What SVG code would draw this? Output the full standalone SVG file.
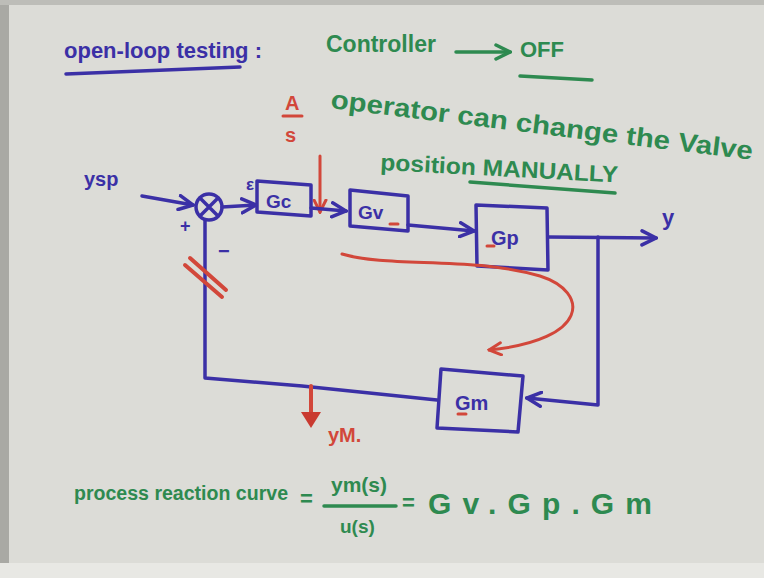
<svg xmlns="http://www.w3.org/2000/svg" width="764" height="578" viewBox="0 0 764 578">
<defs>
<style>
.b{stroke:#3b30a6;stroke-width:3.5;fill:none;stroke-linecap:round;stroke-linejoin:round}
.r{stroke:#d2473a;stroke-width:3;fill:none;stroke-linecap:round}
.g{stroke:#2e8a50;stroke-width:3.5;fill:none;stroke-linecap:round}
.tb{fill:#3b30a6;font-family:"Liberation Sans",Arial,sans-serif;font-weight:bold}
.tg{fill:#2e8a50;font-family:"Liberation Sans",Arial,sans-serif;font-weight:bold}
.tr{fill:#d2473a;font-family:"Liberation Sans",Arial,sans-serif;font-weight:bold}
</style>
<marker id="ab" viewBox="0 0 10 10" refX="9" refY="5" markerWidth="5" markerHeight="5" orient="auto" markerUnits="strokeWidth"><path d="M1,1 L9,5 L1,9" fill="none" stroke="#3b30a6" stroke-width="2" stroke-linecap="round"/></marker>
<marker id="ag" viewBox="0 0 10 10" refX="9" refY="5" markerWidth="5" markerHeight="5" orient="auto" markerUnits="strokeWidth"><path d="M1,1 L9,5 L1,9" fill="none" stroke="#2e8a50" stroke-width="2" stroke-linecap="round"/></marker>
<marker id="ar" viewBox="0 0 10 10" refX="9" refY="5" markerWidth="5" markerHeight="5" orient="auto" markerUnits="strokeWidth"><path d="M1,1 L9,5 L1,9" fill="none" stroke="#d2473a" stroke-width="2" stroke-linecap="round"/></marker>
</defs>
<rect width="764" height="578" fill="#dcdcd7"/>
<rect x="0" y="0" width="9" height="578" fill="#a9a9a4"/>
<rect x="0" y="0" width="764" height="5" fill="#bdbdb8"/>
<rect x="0" y="563" width="764" height="15" fill="#e8e8e4"/>

<g id="title">
<text class="tb" x="64" y="58" font-size="22">open-loop testing :</text>
<path class="b" d="M66,74 L240,67"/>
</g>
<g id="note1">
<text class="tg" x="326" y="52" font-size="23">Controller</text>
<path class="g" d="M456,52 L510,52" marker-end="url(#ag)"/>
<text class="tg" x="520" y="57" font-size="22">OFF</text>
<path class="g" d="M520,76 L592,80"/>
</g>
<g id="note2">
<text class="tg" x="330" y="108" font-size="26" textLength="425" lengthAdjust="spacingAndGlyphs" transform="rotate(7 330 108)">operator can change the Valve</text>
<text class="tg" x="380" y="170" font-size="23" textLength="238" lengthAdjust="spacingAndGlyphs" transform="rotate(3 380 170)">position MANUALLY</text>
<path class="g" d="M470,182 L615,193"/>
</g>

<g id="disturbance">
<text class="tr" x="285" y="110" font-size="20">A</text>
<path class="r" d="M283,116 L302,116"/>
<text class="tr" x="285" y="142" font-size="20">s</text>
<path class="r" d="M320,156 L320,212" marker-end="url(#ar)"/>
</g>

<g id="ysp"><text class="tb" x="84" y="186" font-size="20">ysp</text></g>
<g id="sum">
<circle class="b" cx="209" cy="207" r="13"/>
<path class="b" d="M200,198 L218,216 M218,198 L200,216"/>
<text class="tb" x="180" y="232" font-size="18">+</text>
<text class="tb" x="218" y="258" font-size="20">−</text>
<text class="tb" x="246" y="190" font-size="17">ε</text>
</g>
<g id="Gc">
<path class="b" d="M257,181 L311,185 L311,216 L257,212 Z"/>
<text class="tb" x="266" y="208" font-size="19">Gc</text>
</g>
<g id="Gv">
<path class="b" d="M350,190 L408,196 L408,231 L350,226 Z"/>
<text class="tb" x="358" y="219" font-size="19">Gv</text>
<path class="r" d="M390,224 L398,224"/>
</g>
<g id="Gp">
<path class="b" d="M476,205 L547,208 L548,270 L477,266 Z"/>
<text class="tb" x="491" y="245" font-size="20">Gp</text>
<path class="r" d="M487,246 L494,246"/>
</g>
<g id="Gm">
<path class="b" d="M441,369 L523,376 L518,432 L437,428 Z"/>
<text class="tb" x="455" y="410" font-size="20">Gm</text>
<path class="r" d="M458,414 L466,414"/>
</g>
<g id="y"><text class="tb" x="662" y="225" font-size="22">y</text></g>

<g id="connectors">
<path class="b" d="M142,196 L193,205" marker-end="url(#ab)"/>
<path class="b" d="M222,207 L256,205" marker-end="url(#ab)"/>
<path class="b" d="M311,208 L346,211" marker-end="url(#ab)"/>
<path class="b" d="M408,225 L474,231" marker-end="url(#ab)"/>
<path class="b" d="M548,237 L656,238" marker-end="url(#ab)"/>
<path class="b" d="M598,237 L598,405 L527,398" marker-end="url(#ab)"/>
<path class="b" d="M437,400 L302,386 L205,378 L205,220"/>
<path class="r" d="M185,265 L222,297 M190,258 L226,290" style="stroke-width:4"/>
<path class="r" d="M342,254 C390,268 470,256 540,276 C590,292 590,340 489,350" marker-end="url(#ar)"/>
<path class="r" d="M311,386 L311,412" style="stroke-width:4"/>
<path d="M301,412 L321,412 L311,428 Z" fill="#c93a30"/>
<text class="tr" x="328" y="442" font-size="20">yM.</text>
</g>

<g id="equation">
<text class="tg" x="74" y="500" font-size="20" textLength="214" lengthAdjust="spacingAndGlyphs">process reaction curve</text>
<text class="tg" x="300" y="506" font-size="22">=</text>
<text class="tg" x="331" y="492" font-size="21">ym(s)</text>
<path class="g" d="M324,506 L396,506"/>
<text class="tg" x="340" y="533" font-size="19">u(s)</text>
<text class="tg" x="402" y="510" font-size="22">=</text>
<text class="tg" x="428" y="514" font-size="30" textLength="224" lengthAdjust="spacing">Gv.Gp.Gm</text>
</g>
</svg>
